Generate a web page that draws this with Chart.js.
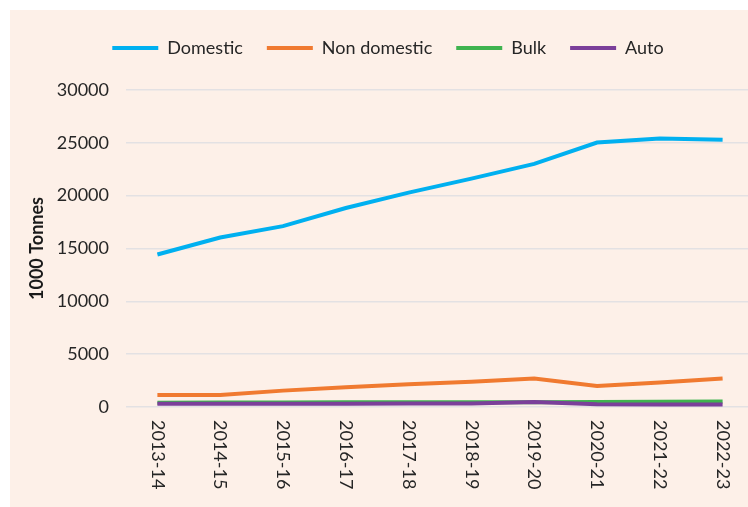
<!DOCTYPE html>
<html>
<head>
<meta charset="utf-8">
<script src="https://cdn.jsdelivr.net/npm/chart.js@4"></script>
<style>
  html, body { margin: 0; padding: 0; background: #ffffff; overflow: hidden; }
  #panel {
    position: absolute; left: 10px; top: 10px;
    width: 746px; height: 497px;
    background: #fdf0e8;
  }
  canvas { display: block; }
</style>
</head>
<body>
<div id="panel"><canvas id="chart" width="746" height="497"></canvas></div>
<script>
// ===== Data =====
const years = ["2013-14", "2014-15", "2015-16", "2016-17", "2017-18",
               "2018-19", "2019-20", "2020-21", "2021-22", "2022-23"];
const domestic    = [14430, 16040, 17120, 18830, 20290, 21610, 23010, 25030, 25410, 25290];
const nonDomestic = [1140, 1140, 1550, 1870, 2150, 2400, 2690, 1990, 2310, 2690];
const bulk        = [400, 420, 430, 450, 450, 440, 450, 480, 500, 520];
const auto        = [300, 310, 310, 310, 320, 320, 480, 250, 240, 230];
const yTicks      = [0, 5000, 10000, 15000, 20000, 25000, 30000];

const textColor = "#262626";
const fontFamily = "Lato, 'Open Sans', sans-serif";

function series(label, data, color, order) {
    return {
        label: label,
        data: data,
        borderColor: color,
        backgroundColor: color,
        borderWidth: 4,
        pointRadius: 0,
        tension: 0,
        fill: false,
        order: order
    };
}

// rotated x labels (reading top to bottom)
const xLabels = {
    id: "xLabels",
    afterDraw(chart) {
        const x = chart.scales.x;
        const ctx = chart.ctx;
        ctx.save();
        ctx.fillStyle = textColor;
        ctx.font = "18px " + fontFamily;
        ctx.textAlign = "left";
        ctx.textBaseline = "middle";
        years.forEach((label, i) => {
            ctx.save();
            ctx.translate(x.getPixelForTick(i), chart.chartArea.bottom + 13);
            ctx.rotate(Math.PI / 2);
            ctx.fillText(label, 0, 0);
            ctx.restore();
        });
        ctx.restore();
    }
};

const chart = new Chart(document.getElementById("chart"), {
    type: "line",
    data: {
        labels: years,
        datasets: [
            series("Domestic", domestic, "#00b0f0", 4),
            series("Non domestic", nonDomestic, "#f07a30", 3),
            series("Bulk", bulk, "#3fb34f", 2),
            series("Auto", auto, "#7b3f9a", 1)
        ]
    },
    options: {
        responsive: false,
        animation: false,
        layout: { padding: { left: 12, right: 2, top: 5, bottom: 0 } },
        plugins: {
            tooltip: { enabled: false },
            legend: {
                position: "top",
                labels: {
                    usePointStyle: true,
                    pointStyle: "line",
                    pointStyleWidth: 46,
                    padding: 24,
                    color: textColor,
                    font: { family: fontFamily, size: 18 },
                    sort: (a, b) => a.datasetIndex - b.datasetIndex
                }
            }
        },
        scales: {
            x: {
                offset: true,
                grid: { display: false },
                border: { display: false },
                ticks: { display: false },
                afterFit: (scale) => { scale.height = 100; }
            },
            y: {
                min: 0,
                max: 30000,
                afterBuildTicks: (scale) => { scale.ticks = yTicks.map(v => ({ value: v })); },
                grid: { color: "#e3e1e3", lineWidth: 1.5, drawTicks: false },
                border: { display: false },
                ticks: {
                    padding: 17,
                    color: textColor,
                    font: { family: fontFamily, size: 18 },
                    callback: (v) => String(v)
                },
                title: {
                    display: true,
                    text: "1000 Tonnes",
                    color: "#1a1a1a",
                    font: { family: fontFamily, size: 18, weight: "bold" },
                    padding: { top: 4, bottom: 4 }
                },
                afterFit: (scale) => { scale.width = 104; }
            }
        }
    },
    plugins: [xLabels]
});

// make room between legend and plot, as in the original
const legendFit = chart.legend.fit;
chart.legend.fit = function () {
    legendFit.call(this);
    this.height = 75;
};
chart.update();
</script>
</body>
</html>
